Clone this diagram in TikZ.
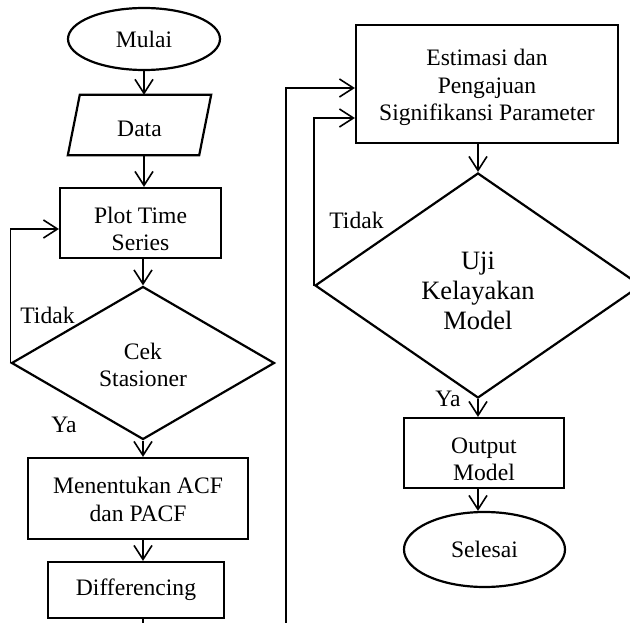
\documentclass[tikz,border=0pt]{standalone}
\usepackage{fontspec}
\setmainfont{Liberation Serif}
\usetikzlibrary{shapes.geometric,arrows.meta}
\newcommand{\lowerby}[1]{\rule{0pt}{#1}}
\begin{document}
\begin{tikzpicture}[x=1pt,y=-1pt,
  txt/.style={font=\fontsize{23.6}{27.5}\selectfont,align=center},
  box/.style={txt,draw,line width=2.2pt,rectangle,inner sep=0pt},
  term/.style={txt,draw,line width=2.2pt,ellipse,inner sep=0pt},
  dec/.style={txt,draw,line width=2.2pt,diamond,inner sep=0pt},
  lbl/.style={font=\fontsize{23.6}{27.5}\selectfont,inner sep=0pt},
  arr/.style={line width=1.6pt,-{Straight Barb[length=14pt,width=18pt,line width=1.6pt]}},
  ln/.style={line width=1.6pt}]
\useasboundingbox (0,0) rectangle (630,623);
\clip (0,0) rectangle (630,623);
% left column
\node[term,minimum width=152pt,minimum height=62pt] (mulai) at (144,39) {Mulai};
\node[txt,inner sep=0pt,minimum width=131pt,minimum height=60pt] (data) at (139.5,125) {\lowerby{24pt}Data};
\draw[line width=2.2pt,line join=miter]
  ([xshift=6pt]data.north west) -- ([xshift=6pt]data.north east)
  -- ([xshift=-6pt]data.south east) -- ([xshift=-6pt]data.south west) -- cycle;
\node[box,minimum width=161pt,minimum height=70pt] (plot) at (140.5,223) {\lowerby{28pt}Plot Time\\Series};
\node[dec,minimum width=263pt,minimum height=153pt] (cek) at (143,363) {\lowerby{20pt}Cek\\Stasioner};
\node[box,minimum width=220pt,minimum height=81pt] (acf) at (138,498.5) {\lowerby{18pt}Menentukan ACF\\dan PACF};
\node[box,minimum width=176pt,minimum height=56pt] (diff) at (136,590) {Differencing};
\node[lbl] (tidak1) at (47.5,315) {Tidak};
\node[lbl] (ya1) at (64,425) {Ya};
\coordinate (bl) at (143,630);
\coordinate (br) at (286,630);
% right column
\node[box,minimum width=262pt,minimum height=118pt] (est) at (487,84) {\lowerby{24pt}Estimasi dan\\Pengajuan\\Signifikansi Parameter};
\node[dec,font=\fontsize{26.5}{30}\selectfont,minimum width=326pt,minimum height=225pt] (uji) at (478,285.5) {\lowerby{28pt}Uji\\Kelayakan\\Model};
\node[box,minimum width=160pt,minimum height=70pt] (out) at (484,453) {\lowerby{28pt}Output\\Model};
\node[term,minimum width=161pt,minimum height=75pt] (sel) at (484.5,549.5) {Selesai};
\node[lbl] (tidak2) at (356.5,220) {Tidak};
\node[lbl] (ya2) at (448,399) {Ya};
% connectors left
\draw[arr] (mulai.south) -- (mulai.south |- data.north);
\draw[arr] (data.south -| mulai.south) -- (mulai.south |- plot.north);
\draw[arr] (plot.south -| cek.north) -- (cek.north);
\draw[arr] (cek.west) |- ([yshift=-6pt]plot.west);
\draw[arr] (cek.south) -- (cek.south |- acf.north);
\draw[arr] (acf.south -| cek.south) -- (cek.south |- diff.north);
\draw[ln] (diff.south -| bl) -- (bl);
% connectors right
\draw[arr] (br) |- ([yshift=-4pt]est.west);
\draw[arr] (uji.west) |- ([yshift=-34pt]est.west);
\draw[arr] (est.south -| uji.north) -- (uji.north);
\draw[arr] (uji.south) -- (uji.south |- out.north);
\draw[arr] (out.south -| uji.south) -- (uji.south |- sel.north);
\end{tikzpicture}
\end{document}
